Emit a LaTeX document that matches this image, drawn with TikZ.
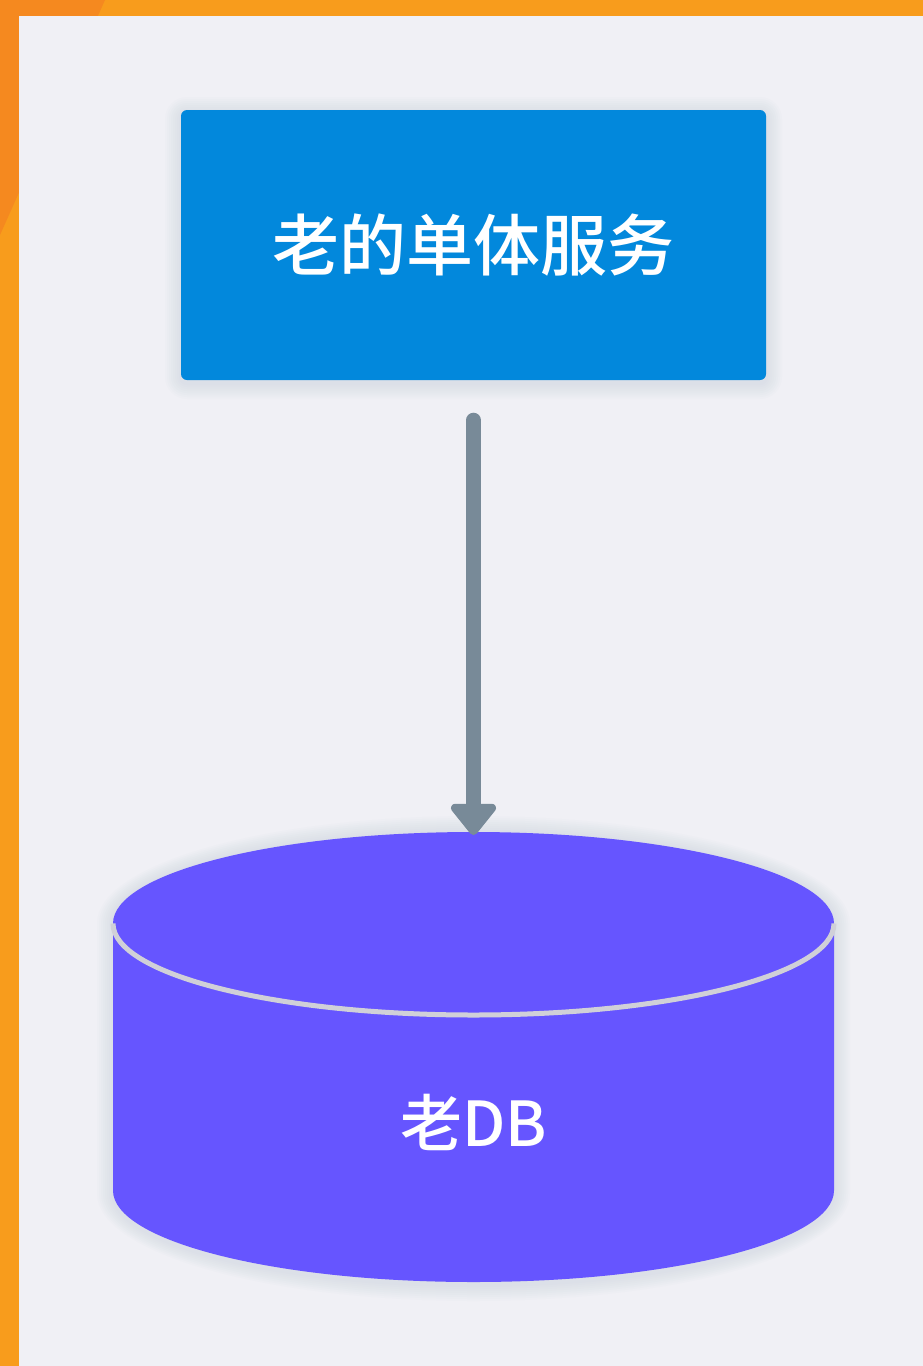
\documentclass[tikz,border=0pt]{standalone}
\usepackage{fontspec}
\newfontfamily\cjk{Noto Sans CJK SC}[UprightFont={* Medium}]
\usetikzlibrary{arrows.meta}
\definecolor{orangeA}{HTML}{F89C1C}
\definecolor{orangeB}{HTML}{F5891F}
\definecolor{bgc}{HTML}{F0F0F5}
\definecolor{boxblue}{HTML}{0288DC}
\definecolor{dbpurple}{HTML}{6655FF}
\definecolor{arrowgray}{HTML}{788A98}
\definecolor{rimgray}{HTML}{D0D0D8}
\definecolor{halo}{HTML}{B8C4D4}
\tikzset{
  svcbox/.style={fill=boxblue, rounded corners=6pt, minimum width=585pt, minimum height=270pt, inner sep=0pt,
    text=white, font=\cjk\fontsize{67}{67}\selectfont},
  dblabel/.style={text=white, font=\cjk\fontsize{62}{62}\selectfont, inner sep=0pt},
  flow/.style={draw=arrowgray, line width=15pt, line cap=round,
    -{Triangle[width=52pt,length=34pt,round]}},
}
\begin{document}
\begin{tikzpicture}[x=1pt,y=-1pt]
\useasboundingbox (0,0) rectangle (923,1366);
\fill[orangeA] (0,0) rectangle (923,1366);
\fill[orangeB] (0,0) -- (105,0) -- (0,235) -- cycle;
\fill[bgc] (19,16) rectangle (923,1366);
% soft halo of the service box
\foreach \d in {2,4,...,16} {
  \fill[halo, opacity=0.045, rounded corners=6pt+\d pt] (181-\d,110-\d+3) rectangle (766+\d,380+\d+3);
}
% service box
\node[svcbox] (svc) at (473.5,245) {老的单体服务};
% soft halo of the cylinder
\foreach \d in {2,4,...,16} {
  \fill[halo, opacity=0.045] (113-\d,923.5) -- (113-\d,1190.5+3) arc[start angle=180, end angle=0, x radius=360.5+\d, y radius=91.5+\d] -- (834+\d,923.5) arc[start angle=0, end angle=-180, x radius=360.5+\d, y radius=91.5+\d] -- cycle;
}
% database cylinder
\fill[dbpurple] (113,923.5) -- (113,1190.5) arc[start angle=180, end angle=0, x radius=360.5, y radius=91.5] -- (834,923.5) arc[start angle=0, end angle=-180, x radius=360.5, y radius=91.5] -- cycle;
\draw[rimgray, line width=5pt] (113,923.5) arc[start angle=180, end angle=0, x radius=360.5, y radius=91.5];
\coordinate (dbtop) at (473.5,835);
\node[dblabel] (db) at (473.5,1122) {老DB};
% connector
\draw[flow, shorten <=40pt] (svc.south) -- (dbtop);
\end{tikzpicture}
\end{document}
